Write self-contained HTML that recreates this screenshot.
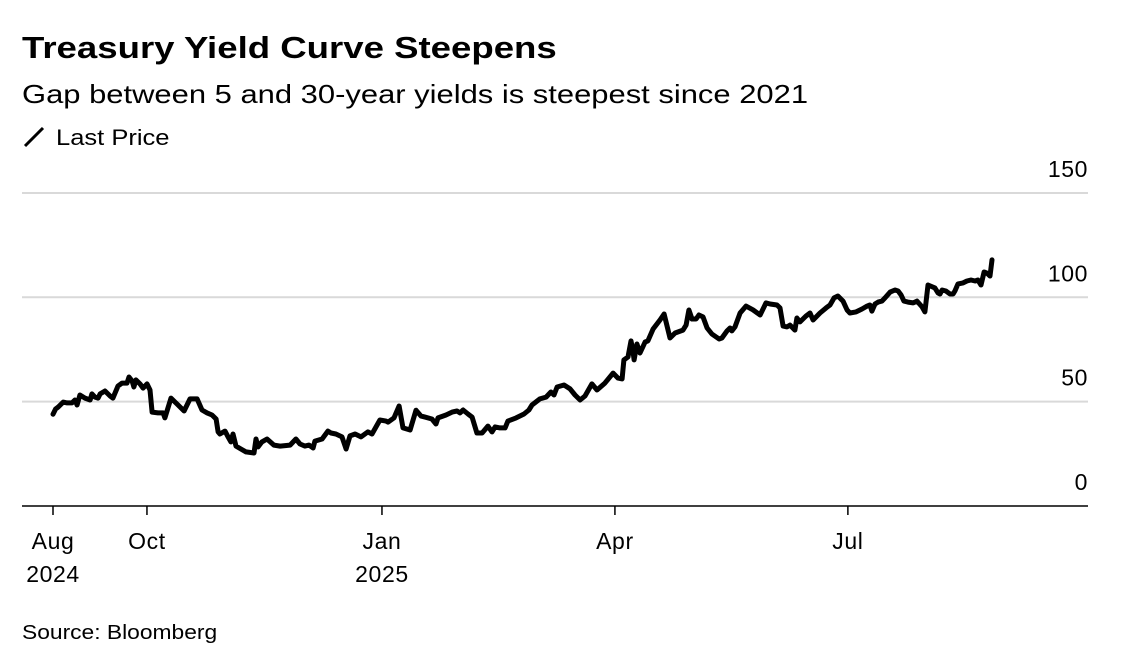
<!DOCTYPE html>
<html><head><meta charset="utf-8"><style>
body{margin:0;background:#fff;font-family:"Liberation Sans",sans-serif;color:#000}
#wrap{position:relative;width:1136px;height:665px;overflow:hidden}
.t{position:absolute;white-space:nowrap;transform-origin:0 0}
</style></head><body>
<div id="wrap">
<div class="t" style="left:22px;top:30px;font-size:31px;font-weight:bold;transform:scaleX(1.18)">Treasury Yield Curve Steepens</div>
<div class="t" style="left:22px;top:79px;font-size:26px;transform:scaleX(1.19)">Gap between 5 and 30-year yields is steepest since 2021</div>
<div class="t" style="left:22px;top:125px;font-size:22px"><svg width="24" height="24" style="vertical-align:-4px;margin-right:10px"><line x1="3" y1="21" x2="21" y2="3" stroke="#000" stroke-width="3"/></svg><span style="display:inline-block;transform:scaleX(1.16);transform-origin:0 0">Last Price</span></div>
<div class="t" style="left:22px;top:622px;font-size:20px;transform:scaleX(1.14)">Source: Bloomberg</div>
<svg id="chart" width="1136" height="665" style="position:absolute;left:0;top:0"></svg>
</div>
<script>
const days=[0,1,2,4,5.5,7.4,8.6,9.4,10.5,12.5,14.5,15.2,16.4,17.6,18.4,20.3,22.3,23.4,25.4,27,28.9,29.7,30.9,31.6,32.4,34,35.2,36.7,37.9,38.7,41,43,43.7,46.1,48.4,51.2,53.5,56.3,58.2,60.2,62.1,63.7,64.5,65.2,67.2,68.4,69.5,70.3,71.5,73.4,75.4,78.5,79.3,80.1,81.6,83.6,86.3,88.7,92.6,94.9,96.5,98.4,100,101.6,102.3,105.1,107.4,108.6,110.5,112.9,114.5,116,118,120.3,123,124.6,127.7,130.1,130.9,133.2,135.2,136.7,139.5,141.8,143.8,145.3,148,149.6,150.4,153.5,155.9,157.8,159,160.2,162.1,163.7,165.6,167.6,169.9,171.5,172.7,174.6,176.6,177.7,180.9,184,185.9,187.1,190.2,192.6,194.5,195.7,196.9,199.6,202,203.9,205.9,207.8,210.5,212.5,215.6,218.8,220.7,222.3,223,224.6,225.8,226.6,227,228.1,229.3,231.3,232.4,234.4,237.1,238.7,241,243,246.1,247.3,248.4,249.6,251.2,252.3,253.9,255.5,257.4,260.2,261.3,263.3,264.5,265.2,266.4,268.4,270.7,273.4,276.2,278.5,280.1,282.8,284,285.2,286.7,287.9,289.8,290.6,291.8,294.1,295.7,296.9,299.6,302,303.5,305.1,306.6,308.6,310.2,311.3,313.7,316,318,319.1,319.9,321.1,322.3,323.8,325,327,328.9,330.1,331.3,332.4,334,336,337.5,339.5,340.6,341.8,344.5,345.7,346.5,347.3,348.8,350.4,351.6,352.3,353.5,355.5,357,358.6,360.2,361.3,362.5,363.7,364.8,366,366.8];
const values=[44,46.5,47.4,49.8,49.4,49.4,50.8,48.4,53.2,51.7,50.8,53.7,52.2,51.7,53.7,55.1,52.7,51.7,57.5,58.9,58.9,61.8,59.9,57,60.4,58.5,56.5,58.5,55.6,45,44.6,44.6,42.2,51.7,48.9,45.5,51.3,51.3,46,44.6,43.6,41.7,35.5,34.5,35.9,33.1,30.7,34.5,28.7,27.3,25.9,25.4,32.1,28.3,30.7,32.1,29.2,28.7,29.2,32.1,29.7,28.7,29.2,27.8,31.1,32.1,35.9,35,34.5,33.1,27.3,33.6,34.5,33.1,35.5,34.5,41.2,40.7,40.2,42.2,47.9,37.4,36.4,45.9,43.1,42.6,41.7,39.3,42.2,43.6,45,45.5,44.6,46,44.1,42.6,35,35,38.3,35.5,37.9,37.4,37.4,40.7,42.2,44.1,46,48.4,51.3,52.2,54.6,53.2,57,58,56.1,53.2,50.8,52.7,58.5,55.6,58.9,63.7,61.3,60.9,70,71.4,79.1,73.8,70,77.6,73.3,78.6,79.1,84.8,89.1,92,80.5,82.9,84.3,86.7,93.9,89.6,89.6,91.5,90.6,85.3,82.4,80,80.5,83.9,85.3,83.9,85.8,92.5,95.8,94,91.5,97.3,96.8,96.3,94.9,86.2,85.8,86.7,84.3,90.1,88.2,91,92.5,89.1,92.5,94.9,96.3,99.7,100.6,98.2,93.9,92.5,93,94.4,95.8,96.3,93.4,96.8,97.7,98.2,99.7,102.5,103.5,103,101.1,98.2,97.7,97.3,98.2,95.4,93,105.9,104.5,102.1,101.6,103.5,103,101.6,101.6,103,106.4,106.9,107.8,108.3,107.8,108.3,105.9,112.1,111.6,110.2,117.9];
const yTicks=[0,50,100,150];
const yTickLabels=["0","50","100","150"];
const xTickDays=[0,36.7,128.5,219.5,310.5];
const xTickLabels=[["Aug","2024"],["Oct",""],["Jan","2025"],["Apr",""],["Jul",""]];
const X=d=>53+d*2.56;
const Y=v=>506-v*2.087;
const svg=document.getElementById('chart');
const NS='http://www.w3.org/2000/svg';
function mk(t,a){const e=document.createElementNS(NS,t);for(const k in a)e.setAttribute(k,a[k]);svg.appendChild(e);return e;}
yTicks.forEach((v,i)=>{
  if(v>0){const g=mk('line',{x1:22,x2:1088,y1:Y(v),y2:Y(v),stroke:'#d9d9d9','stroke-width':2});
  
  }
  const t=mk('text',{x:1088,y:Y(v)-16,'text-anchor':'end','font-size':23,'letter-spacing':0.6,'font-family':'Liberation Sans, sans-serif'});
  t.textContent=yTickLabels[i];
  
  
});
const ax=mk('line',{x1:22,x2:1088,y1:Y(0),y2:Y(0),stroke:'#000','stroke-width':1.5});


xTickDays.forEach((d,i)=>{
  const tk=mk('line',{x1:X(d),x2:X(d),y1:Y(0),y2:Y(0)+9,stroke:'#000','stroke-width':1.5});
  
  
  xTickLabels[i].forEach((s,j)=>{if(!s)return;
    const t=mk('text',{x:X(d),y:549+j*33,'text-anchor':'middle','font-size':23,'letter-spacing':0.6,'font-family':'Liberation Sans, sans-serif'});
    t.textContent=s;
    
    
  });
});
const p=mk('path',{d:days.map((d,i)=>(i?'L':'M')+X(d).toFixed(1)+' '+Y(values[i]).toFixed(1)).join(''),fill:'none',stroke:'#000','stroke-width':5,'stroke-linejoin':'round','stroke-linecap':'round'});


</script>
</body></html>
